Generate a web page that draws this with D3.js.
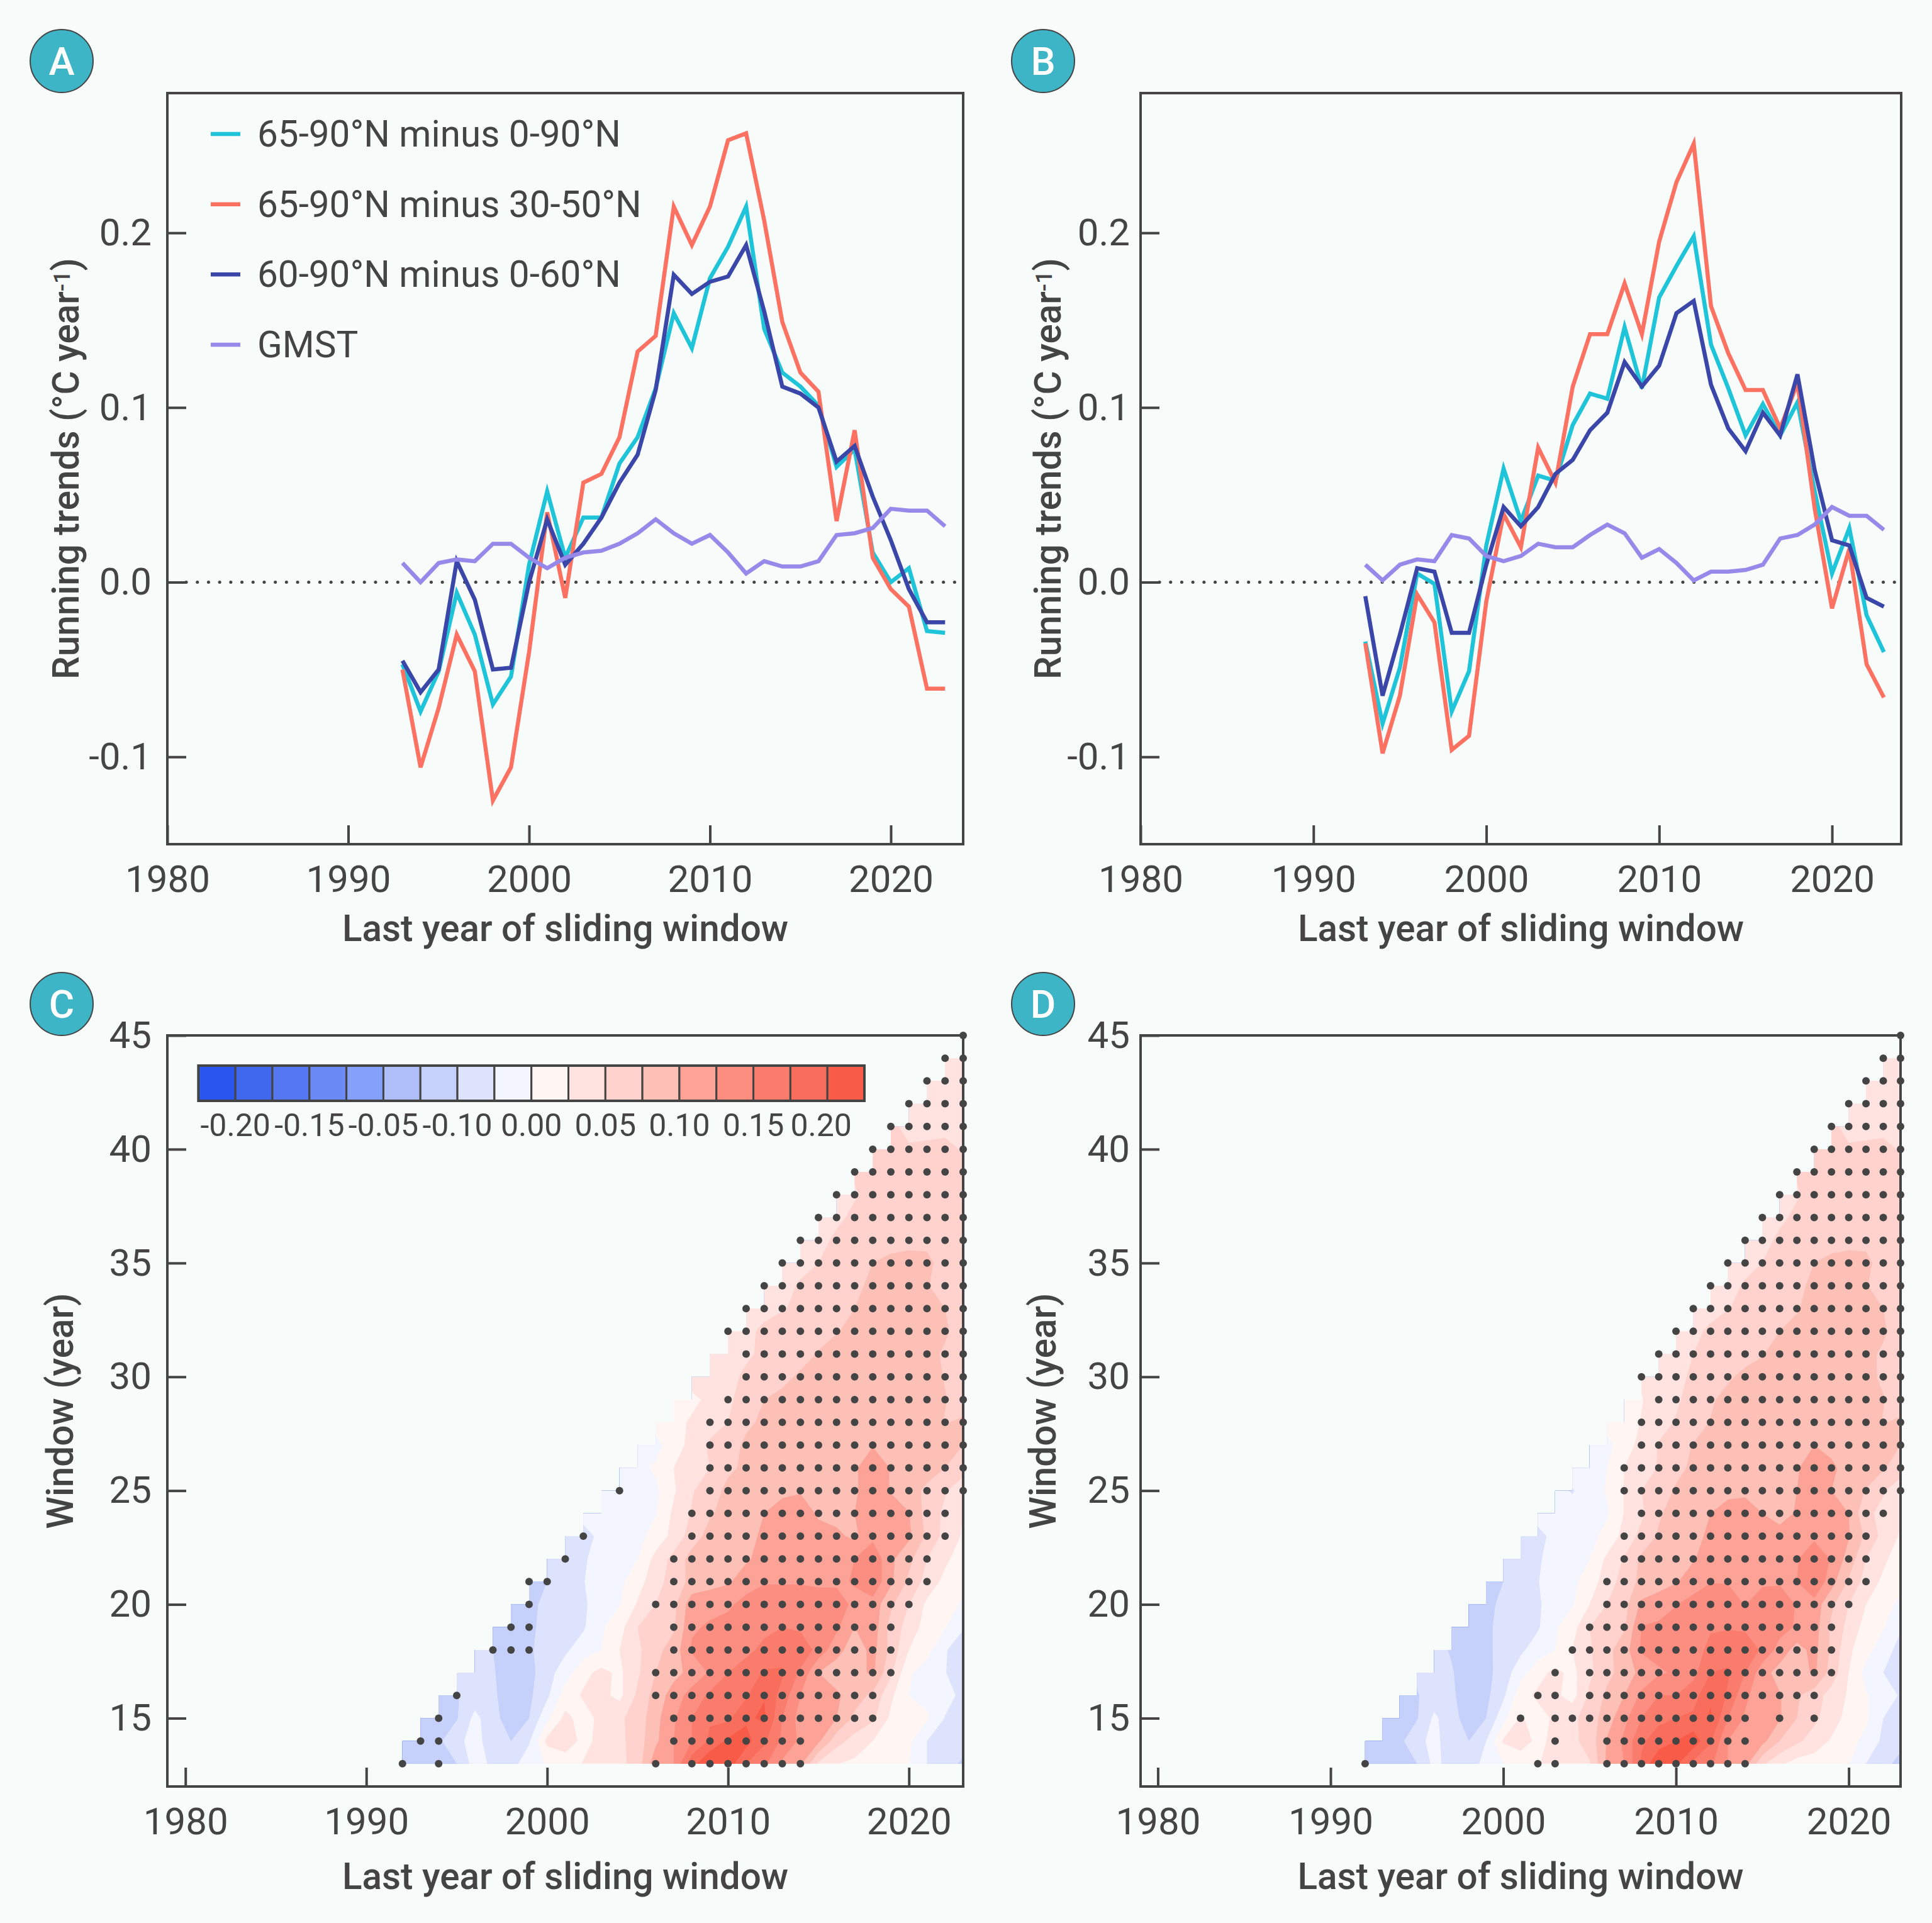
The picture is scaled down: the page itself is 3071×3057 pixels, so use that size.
<!DOCTYPE html>
<html lang="en">
<head>
  <meta charset="UTF-8" />
  <title>Running trends</title>
  <script src="https://d3js.org/d3.v7.min.js"></script>
  <style>
    html, body { margin: 0; padding: 0; background: #f7fbfa; }
    svg { display: block; font-family: Roboto, sans-serif; }
    .tick text { font-size: 60px; fill: #444; font-family: Roboto, sans-serif; }
    .tick line { stroke: #444; stroke-width: 4px; }
    .axis-title { font-size: 58.4px; font-weight: 500; fill: #444; text-anchor: middle; }
    .legend-text { font-size: 58.4px; fill: #444; }
    .cbar-label { font-size: 50px; fill: #444; text-anchor: middle; }
    .badge-text { font-size: 62px; font-weight: 500; fill: #fff; text-anchor: middle; }
  </style>
</head>
<body>
<svg id="chart" width="3071" height="3057"></svg>
<script>
// ---------------------------------------------------------
// Line data (panels A and B), one value per year 1993-2023
// ---------------------------------------------------------
const lineYears = d3.range(1993, 2024);

const arcticGlobalA = [-0.047,-0.074,-0.051,-0.006,-0.030,-0.070,-0.054,0.010,0.052,0.014,0.037,0.037,0.068,0.083,0.111,0.154,0.134,0.174,0.192,0.215,0.145,0.120,0.112,0.101,0.066,0.076,0.017,0.000,0.008,-0.028,-0.029];
const arcticMidA = [-0.050,-0.106,-0.072,-0.030,-0.051,-0.125,-0.106,-0.040,0.040,-0.009,0.057,0.062,0.083,0.132,0.141,0.215,0.193,0.215,0.253,0.257,0.207,0.149,0.120,0.109,0.035,0.087,0.014,-0.004,-0.014,-0.061,-0.061];
const polarRestA = [-0.045,-0.063,-0.050,0.012,-0.010,-0.050,-0.049,0.000,0.036,0.010,0.022,0.037,0.057,0.073,0.110,0.176,0.165,0.172,0.175,0.193,0.155,0.112,0.108,0.100,0.069,0.078,0.049,0.024,-0.004,-0.023,-0.023];
const gmstA = [0.011,0.000,0.011,0.013,0.012,0.022,0.022,0.014,0.008,0.014,0.017,0.018,0.022,0.028,0.036,0.028,0.022,0.027,0.017,0.005,0.012,0.009,0.009,0.012,0.027,0.028,0.031,0.042,0.041,0.041,0.032];

const arcticGlobalB = [-0.034,-0.081,-0.049,0.005,-0.001,-0.074,-0.051,0.021,0.065,0.035,0.061,0.058,0.090,0.108,0.105,0.146,0.111,0.163,0.181,0.198,0.136,0.111,0.084,0.102,0.084,0.103,0.052,0.005,0.031,-0.019,-0.040];
const arcticMidB = [-0.035,-0.098,-0.065,-0.007,-0.023,-0.096,-0.088,-0.011,0.039,0.020,0.077,0.057,0.112,0.142,0.142,0.171,0.142,0.195,0.229,0.251,0.158,0.131,0.110,0.110,0.088,0.114,0.042,-0.015,0.019,-0.047,-0.066];
const polarRestB = [-0.008,-0.065,-0.030,0.008,0.006,-0.029,-0.029,0.010,0.043,0.032,0.043,0.062,0.070,0.087,0.097,0.126,0.112,0.124,0.154,0.161,0.113,0.088,0.075,0.097,0.084,0.119,0.064,0.024,0.021,-0.009,-0.014];
const gmstB = [0.010,0.001,0.010,0.013,0.012,0.027,0.025,0.015,0.012,0.015,0.022,0.020,0.020,0.027,0.033,0.028,0.014,0.019,0.011,0.001,0.006,0.006,0.007,0.010,0.025,0.027,0.033,0.043,0.038,0.038,0.030];

const seriesNames = ["65-90°N minus 0-90°N", "65-90°N minus 30-50°N", "60-90°N minus 0-60°N", "GMST"];
const seriesColors = ["#1fc4d9", "#fb7263", "#3a46a8", "#958aea"];

// ---------------------------------------------------------
// Heat map data (panels C and D), in 0.001 °C per year
// One row per window length (13 up to 45), each row ends at 2023
// ---------------------------------------------------------
const trendRowsC = [
  [-60,-60,-58,-50,-14,-30,-35,-10,2,15,26,38,42,62,116,125,190,225,215,175,155,120,105,45,26,20,12,8,1,-25,-45,-52],
  [-60,-60,-55,-30,-18,-35,-50,-28,32,35,20,30,44,62,95,125,150,180,205,210,180,145,120,105,60,40,25,15,5,-25,-38,-45],
  [-58,-58,-52,-18,-40,-65,-50,-5,32,15,32,46,60,92,122,150,172,170,195,205,150,115,105,100,70,55,20,12,4,-26,-40],
  [-55,-52,-38,-45,-65,-55,-30,12,28,32,18,55,85,112,135,155,155,172,198,165,125,110,105,85,70,30,0,-8,-18,-30],
  [-45,-40,-48,-62,-58,-35,-12,18,32,20,46,75,92,108,128,150,160,178,178,145,100,85,90,105,55,3,-10,-24,-40],
  [-40,-50,-58,-52,-44,-29,-12,0,25,45,68,85,128,135,140,145,155,165,170,140,110,85,108,68,25,8,-22,-45],
  [-55,-60,-55,-42,-27,-28,-3,15,50,62,72,122,128,135,135,145,150,145,142,130,100,115,65,40,14,2,-22],
  [-60,-55,-45,-35,-28,-15,-1,28,50,68,115,118,120,135,145,145,145,140,145,115,115,80,50,20,8,-3],
  [-55,-50,-38,-26,-12,-6,15,40,62,82,90,97,112,122,122,122,120,118,128,145,105,70,40,18,5],
  [-45,-40,-28,-15,-8,0,33,58,85,88,92,97,108,115,118,118,118,125,145,105,82,50,30,12],
  [-42,-32,-20,-12,-8,10,33,62,85,90,95,103,110,112,108,105,95,118,112,105,70,42,22],
  [-18,-15,-15,-8,-1,30,52,72,85,92,100,110,112,97,92,100,120,115,101,65,45,25],
  [-20,-27,-15,-5,22,48,62,82,88,92,95,98,92,92,95,120,98,85,70,52,38],
  [-8,-10,5,25,38,50,70,80,85,88,90,92,92,95,122,98,90,85,75,58],
  [-8,-10,15,32,55,68,78,82,85,88,90,90,92,98,92,90,85,82,75],
  [15,18,28,38,50,72,78,84,86,88,88,88,88,88,88,82,74,78],
  [18,20,30,45,62,75,80,84,86,86,86,86,86,86,86,76,66],
  [35,32,42,55,62,70,78,82,84,84,84,84,84,82,74,60],
  [35,38,46,55,62,68,76,82,84,85,85,85,82,72,60],
  [35,42,57,62,66,70,74,80,84,86,85,84,78,65],
  [35,40,48,56,62,68,75,84,86,86,84,75,65],
  [30,38,54,60,65,70,80,83,80,76,68,60],
  [30,40,50,60,65,75,82,84,80,66,60],
  [30,42,55,60,62,65,68,70,68,62],
  [32,45,55,60,62,62,62,62,60],
  [32,48,58,60,62,62,62,60],
  [52,56,60,62,62,60,60],
  [53,52,54,55,56,48],
  [58,40,42,44,45],
  [38,38,38,40],
  [38,38,38],
  [36,36],
  [36]
];

const trendRowsD = [
  [-60,-62,-58,-50,-18,-35,-42,-14,0,12,24,32,40,48,105,125,178,225,205,168,155,125,110,55,30,15,12,8,2,-25,-45,-55],
  [-60,-60,-56,-32,-18,-38,-50,-25,28,35,20,30,44,60,102,130,172,185,200,215,178,125,120,108,75,55,40,22,10,-8,-30,-45],
  [-58,-58,-52,-20,-40,-62,-50,-8,28,14,30,44,62,88,118,150,170,175,180,205,150,122,105,103,75,55,38,15,5,-25,-40],
  [-56,-52,-38,-45,-65,-56,-30,15,30,30,15,55,80,100,130,150,150,165,195,172,130,110,102,78,62,40,22,2,-10,-28],
  [-45,-42,-48,-62,-58,-38,-10,15,32,18,45,68,85,108,122,128,142,175,178,150,110,90,85,105,65,25,-8,-25,-42],
  [-42,-52,-60,-55,-42,-30,-12,0,25,47,68,88,128,133,135,142,155,165,170,145,115,90,108,70,30,8,-12,-35],
  [-55,-60,-55,-42,-26,-28,-3,15,50,62,72,126,130,135,140,148,148,145,140,135,122,112,70,42,15,2,-22],
  [-60,-56,-45,-35,-28,-14,-2,25,50,66,105,112,124,135,140,135,124,135,148,122,115,80,50,25,8,-5],
  [-56,-50,-38,-26,-12,-6,12,38,60,82,90,98,112,124,124,124,122,120,125,150,110,72,40,20,8],
  [-45,-40,-28,-15,-8,0,30,52,80,88,92,98,112,118,120,118,118,122,150,122,90,50,30,12],
  [-40,-30,-20,-12,-8,8,33,58,78,88,94,104,112,115,112,108,100,118,115,102,70,42,22],
  [-18,-15,-14,-8,-3,26,45,72,85,92,100,112,114,100,92,102,118,115,100,55,44,30],
  [-18,-27,-12,2,26,50,62,78,86,90,92,94,95,96,100,122,100,85,74,52,38],
  [-8,-10,0,25,36,52,68,80,85,88,90,92,92,96,122,104,92,85,78,60],
  [-8,-8,15,32,52,66,76,82,85,88,90,92,96,100,94,90,84,80,75],
  [12,15,26,40,52,65,76,84,86,88,88,88,88,88,86,82,74,78],
  [20,24,34,46,60,72,82,85,86,86,86,86,86,86,86,76,66],
  [28,32,42,55,62,72,80,82,84,84,84,84,84,80,72,62],
  [30,38,50,56,62,68,74,82,85,85,85,85,80,72,60],
  [34,42,56,62,66,70,75,82,85,86,85,84,78,64],
  [34,40,49,56,62,68,73,84,86,86,84,75,65],
  [32,38,54,60,65,70,80,83,80,76,68,60],
  [30,40,50,60,65,75,82,84,80,66,60],
  [30,42,55,60,62,65,68,70,68,62],
  [32,45,55,60,62,62,62,62,60],
  [32,48,58,60,62,62,62,60],
  [52,56,60,62,62,60,60],
  [53,52,54,55,56,48],
  [58,40,42,44,45],
  [38,38,38,40],
  [38,38,38],
  [36,36],
  [36]
];

// Stippled years per window: [window, first year, last year]
const stippleC = [
  [13,1992,1992],[13,1994,1994],[13,2006,2006],[13,2008,2014],
  [14,1993,1994],[14,2007,2014],
  [15,1994,1994],[15,2007,2018],
  [16,1995,1995],[16,2006,2018],
  [17,2006,2019],
  [18,1997,1999],[18,2007,2019],
  [19,1998,1999],[19,2007,2019],
  [20,1999,1999],[20,2006,2020],
  [21,1999,2000],[21,2007,2021],
  [22,2001,2001],[22,2007,2021],
  [23,2002,2002],[23,2008,2022],
  [24,2008,2022],
  [25,2004,2004],[25,2009,2023],
  [26,2009,2023],[27,2009,2023],[28,2009,2023],
  [29,2010,2023],[30,2011,2023],[31,2011,2023],[32,2010,2023],
  [33,2011,2023],[34,2012,2023],[35,2013,2023],[36,2014,2023],
  [37,2015,2023],[38,2016,2023],[39,2017,2023],[40,2018,2023],
  [41,2019,2023],[42,2020,2023],[43,2021,2023],[44,2022,2023],[45,2023,2023]
];

const stippleD = [
  [13,1992,1992],[13,2002,2003],[13,2006,2014],
  [14,2003,2003],[14,2006,2014],
  [15,2001,2001],[15,2003,2014],[15,2016,2016],[15,2018,2018],
  [16,2002,2003],[16,2005,2018],
  [17,2003,2003],[17,2005,2019],
  [18,2004,2019],
  [19,2005,2019],
  [20,2006,2020],
  [21,2006,2021],
  [22,2007,2021],[23,2007,2021],
  [24,2008,2022],
  [25,2007,2023],[26,2007,2023],[27,2008,2023],[28,2008,2023],
  [29,2009,2023],[30,2008,2023],[31,2009,2023],[32,2010,2023],
  [33,2011,2023],[34,2012,2023],[35,2013,2023],[36,2014,2023],
  [37,2015,2023],[38,2016,2023],[39,2017,2023],[40,2018,2023],
  [41,2019,2023],[42,2020,2023],[43,2021,2023],[44,2022,2023],[45,2023,2023]
];

// Colour bands: each level is the lower bound of one band (0.001 °C per year)
const bandLevels = d3.range(-225, 225, 25);
const bandColors = ["#2a55ee","#4068ef","#5577f2","#6c8af5","#85a0f8","#afbef9","#c5d0fb","#dee3fd","#f3f6ff",
                    "#fff5f3","#ffe3e0","#ffd2cd","#fcc0b7","#fca297","#fb8e80","#fa7c6c","#f96d5c","#f85b47"];
const cbarLabels = ["-0.20","-0.15","-0.05","-0.10","0.00","0.05","0.10","0.15","0.20"];

const xTickYears = [1980, 1990, 2000, 2010, 2020];
const lineTicks = [-0.1, 0, 0.1, 0.2];
const lineTickLabels = ["-0.1", "0.0", "0.1", "0.2"];
const windowTicks = [15, 20, 25, 30, 35, 40, 45];

// ---------------------------------------------------------
// Panel boxes
// ---------------------------------------------------------
const TEXT = "#444";
const boxA = { left: 266, right: 1531, top: 148, bottom: 1342, pad: 25, titleX: 125, titleY: 1496, badgeX: 98, badgeY: 97, name: "A" };
const boxB = { left: 1813, right: 3022, top: 148, bottom: 1342, pad: 17, titleX: 1686, titleY: 1496, badgeX: 1658, badgeY: 97, name: "B" };
const boxC = { left: 266, right: 1531, top: 1646, bottom: 2840, pad: 25, titleX: 116, titleY: 3003, badgeX: 98, badgeY: 1596, name: "C" };
const boxD = { left: 1813, right: 3021, top: 1646, bottom: 2840, pad: 17, titleX: 1678, titleY: 3003, badgeX: 1658, badgeY: 1596, name: "D" };

const svg = d3.select("#chart");
svg.append("rect").attr("width", 3071).attr("height", 3057).attr("fill", "#f7fbfa");

function drawAxes(g, box, x, y, yTicks, yFormat) {
  const xAxis = d3.axisBottom(x).tickValues(xTickYears).tickFormat(d3.format("d"))
    .tickSize(-30).tickPadding(33);
  const yAxis = d3.axisLeft(y).tickValues(yTicks).tickFormat(yFormat)
    .tickSize(-30).tickPadding(box.pad);
  g.append("g").attr("transform", `translate(0,${box.bottom})`).call(xAxis).call(a => a.select(".domain").remove());
  g.append("g").attr("transform", `translate(${box.left},0)`).call(yAxis).call(a => a.select(".domain").remove());
  g.append("rect")
    .attr("x", box.left).attr("y", box.top)
    .attr("width", box.right - box.left).attr("height", box.bottom - box.top)
    .attr("fill", "none").attr("stroke", TEXT).attr("stroke-width", 4);
}

function drawTitles(g, box, yTitle) {
  g.append("text").attr("class", "axis-title")
    .attr("x", (box.left + box.right) / 2).attr("y", box.titleY)
    .text("Last year of sliding window");

  const t = g.append("text").attr("class", "axis-title")
    .attr("transform", `translate(${box.titleX},${(box.top + box.bottom) / 2}) rotate(-90)`);
  yTitle.forEach(part => {
    t.append("tspan").text(part.text)
      .attr("dy", part.dy || 0)
      .attr("font-size", part.size || null);
  });

  // letter badge
  g.append("circle").attr("cx", box.badgeX).attr("cy", box.badgeY).attr("r", 50)
    .attr("fill", "#3db5c7").attr("stroke", TEXT).attr("stroke-width", 2);
  g.append("text").attr("class", "badge-text")
    .attr("x", box.badgeX).attr("y", box.badgeY + 22).text(box.name);
}

// ---------------------------------------------------------
// Line panels
// ---------------------------------------------------------
function drawLinePanel(box, series, showLegend) {
  const g = svg.append("g");
  const x = d3.scaleLinear().domain([1980, 2024]).range([box.left, box.right]);
  const y = d3.scaleLinear().domain([-0.15, 0.28]).range([box.bottom, box.top]);

  // zero line
  g.append("line")
    .attr("x1", x(1980) + 30).attr("x2", x(2024))
    .attr("y1", y(0)).attr("y2", y(0))
    .attr("stroke", TEXT).attr("stroke-width", 5)
    .attr("stroke-linecap", "round").attr("stroke-dasharray", "0.1 17.6");

  const line = d3.line().x((d, i) => x(lineYears[i])).y(d => y(d));
  series.forEach((values, i) => {
    g.append("path").attr("d", line(values))
      .attr("fill", "none").attr("stroke", seriesColors[i])
      .attr("stroke-width", 6.5).attr("stroke-linejoin", "miter");
  });

  drawAxes(g, box, x, y, lineTicks, d => lineTickLabels[lineTicks.indexOf(d)]);
  drawTitles(g, box, [
    { text: "Running trends (°C year" },
    { text: "-1", dy: "-0.4em", size: "36px" },
    { text: ")", dy: "0.27em" }
  ]);

  if (showLegend) {
    const rowY = d3.scalePoint().domain(seriesNames).range([213, 548]);
    seriesNames.forEach((name, i) => {
      g.append("line").attr("x1", 335).attr("x2", 382)
        .attr("y1", rowY(name)).attr("y2", rowY(name))
        .attr("stroke", seriesColors[i]).attr("stroke-width", 6.5);
      g.append("text").attr("class", "legend-text")
        .attr("x", 409).attr("y", rowY(name) + 20).text(name);
    });
  }
}

// ---------------------------------------------------------
// Contour panels
// ---------------------------------------------------------
function drawHeatPanel(box, rows, stipple, clipId) {
  const g = svg.append("g");
  const x = d3.scaleLinear().domain([1979, 2023]).range([box.left, box.right]);
  const y = d3.scaleLinear().domain([12, 45]).range([box.bottom, box.top]);

  // grid nodes 1991-2023 by window 13-45; rows are padded on the left with their first value
  const nx = 33, ny = rows.length;
  const grid = [];
  rows.forEach(row => {
    const pad = d3.range(nx - row.length).map(() => row[0]);
    grid.push(...pad, ...row);
  });

  const project = d3.geoTransform({
    point(px, py) { this.stream.point(x(1991 + px - 0.5), y(13 + py - 0.5)); }
  });
  const path = d3.geoPath(project);

  // staircase outline of the data region
  const outline = [[2023, 13]];
  d3.range(13, 45).forEach(w => {
    outline.push([w + 1979, w], [w + 1979, w + 1]);
  });
  outline.reverse();
  g.append("clipPath").attr("id", clipId).append("path")
    .attr("d", d3.line().x(d => x(d[0])).y(d => y(d[1]))(outline) + "Z");

  const contours = d3.contours().size([nx, ny]).thresholds(bandLevels).smooth(true)(grid);
  g.append("g").attr("clip-path", `url(#${clipId})`)
    .selectAll("path").data(contours).join("path")
    .attr("d", path)
    .attr("fill", (d, i) => bandColors[i]);

  drawAxes(g, box, x, y, windowTicks, d3.format("d"));

  // stippling
  stipple.forEach(([w, first, last]) => {
    d3.range(first, last + 1).forEach(year => {
      g.append("circle").attr("cx", x(year)).attr("cy", y(w)).attr("r", 6).attr("fill", TEXT);
    });
  });

  drawTitles(g, box, [{ text: "Window (year)" }]);
}

function drawColorbar() {
  const g = svg.append("g");
  const cx = d3.scaleLinear().domain([0, bandColors.length]).range([315.4, 1374]);
  g.selectAll("rect").data(bandColors).join("rect")
    .attr("x", (d, i) => cx(i)).attr("y", 1694)
    .attr("width", cx(1) - cx(0)).attr("height", 56)
    .attr("fill", d => d).attr("stroke", TEXT).attr("stroke-width", 3);
  g.append("rect").attr("x", cx(0)).attr("y", 1694)
    .attr("width", cx(18) - cx(0)).attr("height", 56)
    .attr("fill", "none").attr("stroke", TEXT).attr("stroke-width", 4);
  cbarLabels.forEach((label, i) => {
    g.append("text").attr("class", "cbar-label")
      .attr("x", cx(2 * i + 1) - (i === 8 ? 10 : 0)).attr("y", 1806).text(label);
  });
}

drawLinePanel(boxA, [arcticGlobalA, arcticMidA, polarRestA, gmstA], true);
drawLinePanel(boxB, [arcticGlobalB, arcticMidB, polarRestB, gmstB], false);
drawHeatPanel(boxC, trendRowsC, stippleC, "clipC");
drawHeatPanel(boxD, trendRowsD, stippleD, "clipD");
drawColorbar();
</script>
</body>
</html>
